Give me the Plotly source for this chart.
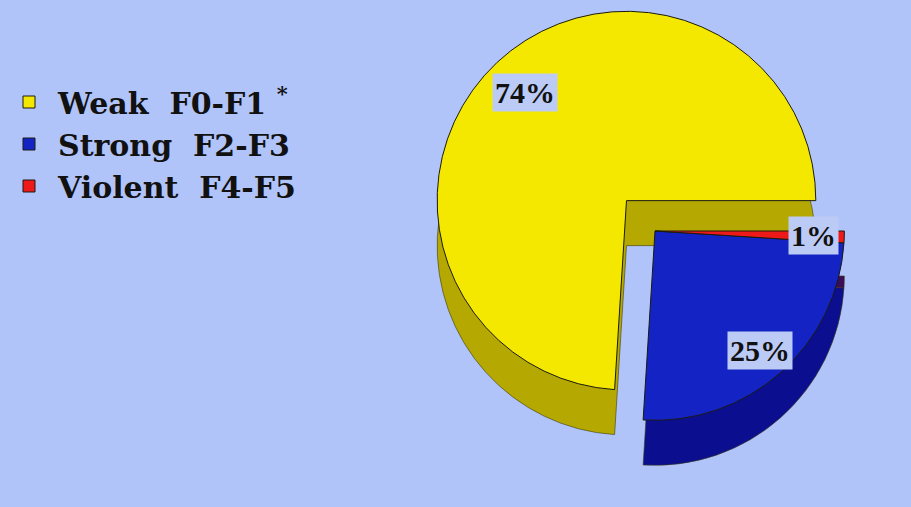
import math
import plotly.graph_objects as go

# ---- data ----
categories = ["Weak\u00a0\u00a0F0-F1\u00a0<sup>*</sup>", "Strong\u00a0\u00a0F2-F3", "Violent\u00a0\u00a0F4-F5"]
values = [74, 25, 1]
pulls = [0.22, 0.0, 0.0]

# ---- style ----
W, H = 911, 507
BG = "#b1c4fa"
top_colors = ["#f4e800", "#1424c4", "#ee1a1a"]
side_colors = ["#b5a800", "#0b0e8e", "#3a0c5a"]
label_bg = "#bccbf6"
label_radial = [0.78, 0.84, 0.84]   # fraction of radius along slice bisector
DEPTH = 45                            # px thickness of the pie
CX = 655                              # px, pie centre x
BOX = H - DEPTH                       # px, square domain size

total = sum(values)
# counterclockwise pies in plotly end their first slice at `rotation`;
# make the first slice start at 3 o'clock and run counterclockwise
rotation = 90 - 360.0 * values[0] / total

def px_dom_x(cx, size):
    return [(cx - size / 2) / W, (cx + size / 2) / W]

def px_dom_y(top, size):
    return [1 - (top + size) / H, 1 - top / H]

common = dict(
    labels=categories, values=values, pull=pulls, sort=False,
    direction="counterclockwise", rotation=rotation,
    textinfo="none", hoverinfo="label+percent",
)

fig = go.Figure()
# side (depth) of the pie, drawn first so that the top face covers it
fig.add_trace(go.Pie(
    **common,
    marker=dict(colors=side_colors, line=dict(color="#3a3a10", width=0.6)),
    domain=dict(x=px_dom_x(CX, BOX), y=px_dom_y(DEPTH, BOX)),
    showlegend=False,
))
# top face
fig.add_trace(go.Pie(
    **common,
    marker=dict(colors=top_colors, line=dict(color="#1a1a10", width=1)),
    domain=dict(x=px_dom_x(CX, BOX), y=px_dom_y(0, BOX)),
    showlegend=True,
))

# ---- percentage labels, placed along each slice bisector ----
maxpull = max(pulls)
r = BOX / (2 + 2 * maxpull)
cy = BOX / 2
start = 0.0
for v, p, k in zip(values, pulls, label_radial):
    span = 360.0 * v / total
    mid = math.radians(start + span / 2)
    d = (p + k) * r
    x = CX + d * math.cos(mid)
    y = cy - d * math.sin(mid)
    fig.add_annotation(
        x=x / W, y=1 - y / H, xref="paper", yref="paper",
        xanchor="center", yanchor="middle",
        text=f"{round(100 * v / total)}%", showarrow=False,
        font=dict(family="Liberation Serif", size=30, color="#111111", weight="bold"),
        bgcolor=label_bg, borderpad=2,
    )
    start += span

fig.update_layout(
    width=W, height=H,
    margin=dict(l=0, r=0, t=0, b=0),
    paper_bgcolor=BG, plot_bgcolor=BG,
    legend=dict(
        x=0.0, y=1 - 76 / H, xanchor="left", yanchor="top",
        font=dict(family="DejaVu Serif", size=30, color="#111111", weight="bold"),
        bgcolor="rgba(0,0,0,0)", tracegroupgap=0, itemwidth=48,
    ),
)

fig.write_html("out.html")
